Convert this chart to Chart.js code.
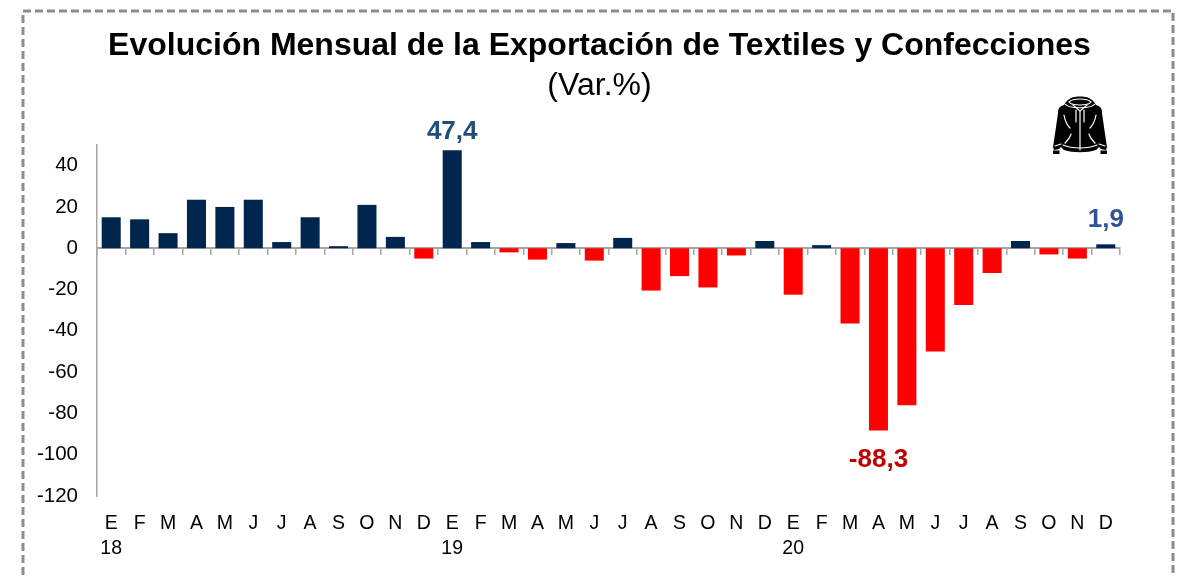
<!DOCTYPE html>
<html><head><meta charset="utf-8">
<script src="https://cdn.jsdelivr.net/npm/chart.js@4"></script>
<style>
html,body{margin:0;padding:0;background:#fff;overflow:hidden}
#wrap{position:relative;width:1189px;height:577px;overflow:hidden}
#frame{position:absolute;left:0;top:0}
canvas{position:absolute;left:0;top:0}
#icon{position:absolute;left:1052px;top:96px;width:56px;height:59px}
</style></head>
<body><div id="wrap">
<svg id="frame" width="1189" height="577"><rect x="23" y="11" width="1150" height="620" fill="none" stroke="#8c8c8c" stroke-width="3" stroke-dasharray="8 4"/></svg>
<canvas id="c" width="1189" height="577"></canvas>
<svg id="icon" viewBox="0 0 56 59">
<path fill="#000" d="M19 2C23 0 33 0 37 2C41 4 43 7 44 9C48 10 50 12 50 17L53 38L55 51L54 54L49 53L47 51L44 54C35 57 21 57 12 54L9 51L7 53L2 54L1 51L3 38L6 17C6 12 8 10 12 9C13 7 15 4 19 2Z"/>
<path fill="#000" d="M1 54.5h6.5v3.5H1zM48.500 54.500h6.500v3.500h-6.500z"/>
<g fill="none" stroke="#fff" stroke-width="1.200" stroke-linecap="round">
<path d="M13 8C17 13 39 13 43 8"/>
<path d="M17 6C21 2 35 2 39 6C36 10 20 10 17 6Z"/>
<path d="M21 9L28 15L35 9"/>
<path d="M24 14v12M32 14v12"/>
<path d="M28 15V54"/>
<path d="M12 19C13 25 15 29 18 32M44 19C43 25 41 29 38 32"/>
<path d="M19 38C18 42 15 45 13 47M37 38C38 42 41 45 43 47"/>
<path d="M11 49C20 53 36 53 45 49"/>
<path d="M3 50L9 48M53 50L47 48"/>
</g>
</svg>
</div>
<script>
const months = ["E","F","M","A","M","J","J","A","S","O","N","D"];
const years = ["18","19","20"];
const categories = [];
years.forEach(y => months.forEach((m,i) => categories.push(i===0 ? [m,y] : [m])));
const values = [15,14,7.3,23.5,20,23.5,3,15,1,21,5.5,-5,
                47.4,3,-2,-5.5,2.5,-6,5,-20.5,-13.5,-19,-3.5,3.5,
                -22.5,1.5,-36.5,-88.3,-76,-50,-27.5,-12,3.5,-3,-5,1.9];
const barColors = values.map((v,i) => v < 0 ? "#FF0000" : (i === values.length-1 ? "#002060" : "#00264D"));
const calloutIndex = [12,27,35];
const calloutText = ["47,4","-88,3","1,9"];
const calloutColor = ["#1F4E79","#C00000","#2F5597"];
const calloutGap = [-19,29,-24];
const axisGray = "#A6A6A6";

const calloutPlugin = {
  id:"callouts",
  afterDatasetsDraw(chart){
    const ctx = chart.ctx, meta = chart.getDatasetMeta(0);
    ctx.save();
    ctx.font = "bold 26px 'Liberation Sans'";
    ctx.textAlign = "center";
    ctx.textBaseline = "middle";
    calloutIndex.forEach((idx,k) => {
      const el = meta.data[idx];
      ctx.fillStyle = calloutColor[k];
      ctx.fillText(calloutText[k], el.x, el.y + calloutGap[k]);
    });
    ctx.restore();
  }
};

new Chart(document.getElementById("c"),{
  type:"bar",
  data:{labels:categories,datasets:[{data:values,backgroundColor:barColors,borderWidth:0,barPercentage:0.67,categoryPercentage:1}]},
  plugins:[calloutPlugin],
  options:{
    responsive:false,animation:false,
    layout:{padding:{left:30,right:20,top:0,bottom:0}},
    plugins:{
      legend:{display:false},tooltip:{enabled:false},
      title:{display:true,text:"Evolución Mensual de la Exportación de Textiles y Confecciones",color:"#000",
        font:{family:"'Liberation Sans'",size:32,weight:"bold",lineHeight:1.2},padding:{top:26.8,bottom:0}},
      subtitle:{display:true,text:"(Var.%)",color:"#000",
        font:{family:"'Liberation Sans'",size:32,weight:"normal",lineHeight:1.2},padding:{top:1.6,bottom:39.8}}
    },
    scales:{
      x:{type:"category",position:"bottom",offset:true,
        border:{display:false},grid:{display:false},
        ticks:{autoSkip:false,maxRotation:0,color:"#000",padding:7,font:{family:"'Liberation Sans'",size:19.5,lineHeight:1.28}},
        afterFit(s){s.height=81;}},
      x2:{type:"category",position:{y:0},offset:true,
        border:{display:true,color:axisGray,width:2},
        grid:{offset:true,drawOnChartArea:false,drawTicks:true,tickLength:6,color:axisGray,lineWidth:1.5},
        ticks:{display:false,autoSkip:false}},
      y:{min:-120,max:50,
        border:{display:true,color:axisGray,width:1.5},grid:{display:false,drawTicks:false},
        ticks:{stepSize:20,includeBounds:false,color:"#000",padding:19,font:{family:"'Liberation Sans'",size:20.5}},
        afterFit(s){s.width=67;}},
      yRight:{position:"right",display:true,min:-120,max:50,
        border:{display:false},grid:{display:false,drawTicks:false},
        ticks:{display:false},
        afterFit(s){s.width=49;}}
    }
  }
});
</script></body></html>
